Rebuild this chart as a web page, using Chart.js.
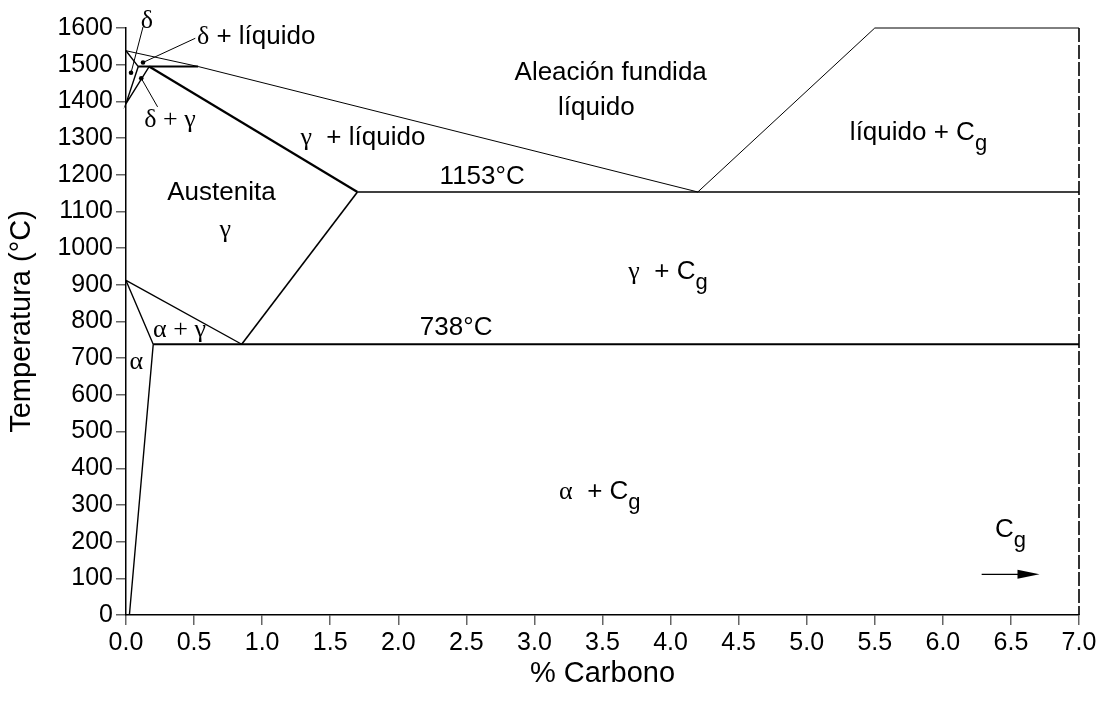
<!DOCTYPE html>
<html>
<head>
<meta charset="utf-8">
<script src="https://cdn.jsdelivr.net/npm/chart.js@4/dist/chart.umd.min.js"></script>
<style>
  html, body { margin: 0; padding: 0; background: #fff; }
  #wrap { width: 1104px; height: 706px; }
</style>
</head>
<body>
<div id="wrap"><canvas id="chart" width="1104" height="706"></canvas></div>
<script>
// axis ticks
const xTicks = [0, 0.5, 1, 1.5, 2, 2.5, 3, 3.5, 4, 4.5, 5, 5.5, 6, 6.5, 7];
const yTicks = [0, 100, 200, 300, 400, 500, 600, 700, 800, 900, 1000, 1100, 1200, 1300, 1400, 1500, 1600];

// phase boundaries, [% C, °C]
const liquidus      = [[0, 1538], [0.53, 1495], [4.2, 1153]];
const liquidusHyper = [[4.2, 1153], [5.5, 1600], [7.0, 1600]];
const rightEdge     = [[7.0, 1600], [7.0, 0]];
const deltaLines    = [[0, 1538], [0.09, 1495], [0, 1394], [0.17, 1495]];
const peritectic    = [[0.09, 1495], [0.53, 1495]];
const gammaSolidus  = [[0.17, 1495], [1.7, 1153]];
const eutectic      = [[1.7, 1153], [7.0, 1153]];
const acmLine       = [[1.7, 1153], [0.85, 738]];
const a3Line        = [[0, 912], [0.85, 738]];
const alphaLine     = [[0, 912], [0.2, 738], [0.025, 0]];
const eutectoid     = [[0.2, 738], [7.0, 738]];

// small regions near the delta corner
const markerDots    = [[0.037, 1478], [0.125, 1506], [0.112, 1463]];
const leaderDelta   = [[0.125, 1603], [0.037, 1478]];
const leaderDeltaL  = [[0.509, 1572], [0.125, 1506]];
const leaderDeltaG  = [[0.232, 1385], [0.112, 1463]];

// graphite arrow
const arrowFrom = [6.285, 111];
const arrowTo   = [6.71, 111];

// text labels: parts are [text, kind] with g = greek, s = sans, sub = subscript
const labels = [
  { parts: [['δ', 'g']], x: 0.108, y: 1618, align: 'left' },
  { parts: [['δ', 'g'], [' + líquido', 's']], x: 0.521, y: 1576, align: 'left' },
  { parts: [['δ + γ', 'g']], x: 0.134, y: 1350, align: 'left' },
  { parts: [['Aleación fundida', 's']], x: 3.56, y: 1477, align: 'center' },
  { parts: [['líquido', 's']], x: 3.455, y: 1382, align: 'center' },
  { parts: [['γ', 'g'], ['  + líquido', 's']], x: 1.281, y: 1300, align: 'left' },
  { parts: [['1153°C', 's']], x: 2.616, y: 1195, align: 'center' },
  { parts: [['líquido + C', 's'], ['g', 'sub']], x: 5.317, y: 1314, align: 'left' },
  { parts: [['Austenita', 's']], x: 0.701, y: 1150, align: 'center' },
  { parts: [['γ', 'g']], x: 0.729, y: 1049, align: 'center' },
  { parts: [['γ', 'g'], ['  + C', 's'], ['g', 'sub']], x: 3.69, y: 935, align: 'left' },
  { parts: [['α + γ', 'g']], x: 0.199, y: 777, align: 'left' },
  { parts: [['738°C', 's']], x: 2.425, y: 782, align: 'center' },
  { parts: [['α', 'g']], x: 0.026, y: 690, align: 'left' },
  { parts: [['α', 'g'], ['  + C', 's'], ['g', 'sub']], x: 3.181, y: 335, align: 'left' },
  { parts: [['C', 's'], ['g', 'sub']], x: 6.383, y: 231, align: 'left' }
];

const SANS = "'Liberation Sans', Arial, sans-serif";
const SERIF = "'Liberation Serif', 'Times New Roman', serif";

function pts(arr) {
  return arr.map(p => ({ x: p[0], y: p[1] }));
}

function seg(data, width) {
  return {
    data: pts(data),
    showLine: true,
    borderColor: '#000',
    borderWidth: width,
    pointRadius: 0,
    fill: false,
    tension: 0,
    clip: false
  };
}

const partFont = {
  g: '26px ' + SERIF,
  s: '26px ' + SANS,
  sub: '22px ' + SANS
};

const labelPlugin = {
  id: 'labels',
  afterDatasetsDraw(chart) {
    const ctx = chart.ctx;
    const xs = chart.scales.x, ys = chart.scales.y;
    ctx.save();
    ctx.fillStyle = '#000';
    ctx.textBaseline = 'middle';
    ctx.textAlign = 'left';

    labels.forEach(l => {
      let total = 0;
      l.parts.forEach(p => {
        ctx.font = partFont[p[1]];
        total += ctx.measureText(p[0]).width;
      });
      let px = xs.getPixelForValue(l.x);
      const py = ys.getPixelForValue(l.y);
      if (l.align === 'center') px -= total / 2;
      l.parts.forEach(p => {
        ctx.font = partFont[p[1]];
        const dy = p[1] === 'sub' ? 11 : 0;
        ctx.fillText(p[0], px, py + dy);
        px += ctx.measureText(p[0]).width;
      });
    });

    // arrow toward graphite
    const x0 = xs.getPixelForValue(arrowFrom[0]);
    const x1 = xs.getPixelForValue(arrowTo[0]);
    const ay = ys.getPixelForValue(arrowFrom[1]);
    ctx.strokeStyle = '#000';
    ctx.lineWidth = 1.2;
    ctx.beginPath();
    ctx.moveTo(x0, ay);
    ctx.lineTo(x1 - 15, ay);
    ctx.stroke();
    ctx.beginPath();
    ctx.moveTo(x1, ay);
    ctx.lineTo(x1 - 22, ay - 4.5);
    ctx.lineTo(x1 - 22, ay + 4.5);
    ctx.closePath();
    ctx.fill();
    ctx.restore();
  }
};

const datasets = [
  seg(liquidus, 1),
  seg(liquidusHyper, 1),
  Object.assign(seg(rightEdge, 1.6), { borderDash: [14, 3] }),
  seg(deltaLines, 1.4),
  seg(peritectic, 1.8),
  seg(gammaSolidus, 2.2),
  seg(eutectic, 1.6),
  seg(acmLine, 1.6),
  seg(a3Line, 1.4),
  seg(alphaLine, 1.4),
  seg(eutectoid, 1.8),
  seg(leaderDelta, 1),
  seg(leaderDeltaL, 1),
  seg(leaderDeltaG, 1),
  {
    data: pts(markerDots),
    showLine: false,
    pointRadius: 2.3,
    pointBackgroundColor: '#000',
    pointBorderWidth: 0,
    clip: false
  }
];

new Chart(document.getElementById('chart'), {
  type: 'scatter',
  data: { datasets },
  options: {
    responsive: false,
    animation: false,
    events: [],
    layout: { padding: { left: 0, right: 25, top: 28, bottom: 0 } },
    plugins: {
      legend: { display: false },
      tooltip: { enabled: false }
    },
    scales: {
      x: {
        type: 'linear',
        min: 0,
        max: 7,
        afterBuildTicks: s => { s.ticks = xTicks.map(v => ({ value: v })); },
        afterFit: s => { s.height = 91; },
        ticks: {
          color: '#000',
          font: { family: SANS, size: 25 },
          padding: 3,
          maxRotation: 0,
          callback: v => Number(v).toFixed(1)
        },
        grid: { drawOnChartArea: false, drawTicks: true, tickLength: 10, color: '#666', lineWidth: 1.5 },
        border: { color: '#000', width: 1.5 },
        title: {
          display: true,
          text: '% Carbono',
          color: '#000',
          font: { family: SANS, size: 29 },
          padding: { top: 0, bottom: 15 }
        }
      },
      y: {
        type: 'linear',
        min: 0,
        max: 1600,
        afterBuildTicks: s => { s.ticks = yTicks.map(v => ({ value: v })); },
        afterFit: s => { s.width = 126; },
        ticks: {
          color: '#000',
          font: { family: SANS, size: 25 },
          padding: 3,
          callback: v => String(v)
        },
        grid: { drawOnChartArea: false, drawTicks: true, tickLength: 10, color: '#666', lineWidth: 1.5 },
        border: { color: '#000', width: 1.5 },
        title: {
          display: true,
          text: 'Temperatura (°C)',
          color: '#000',
          font: { family: SANS, size: 29 },
          padding: { top: 5, bottom: 0 }
        }
      }
    }
  },
  plugins: [labelPlugin]
});
</script>
</body>
</html>
